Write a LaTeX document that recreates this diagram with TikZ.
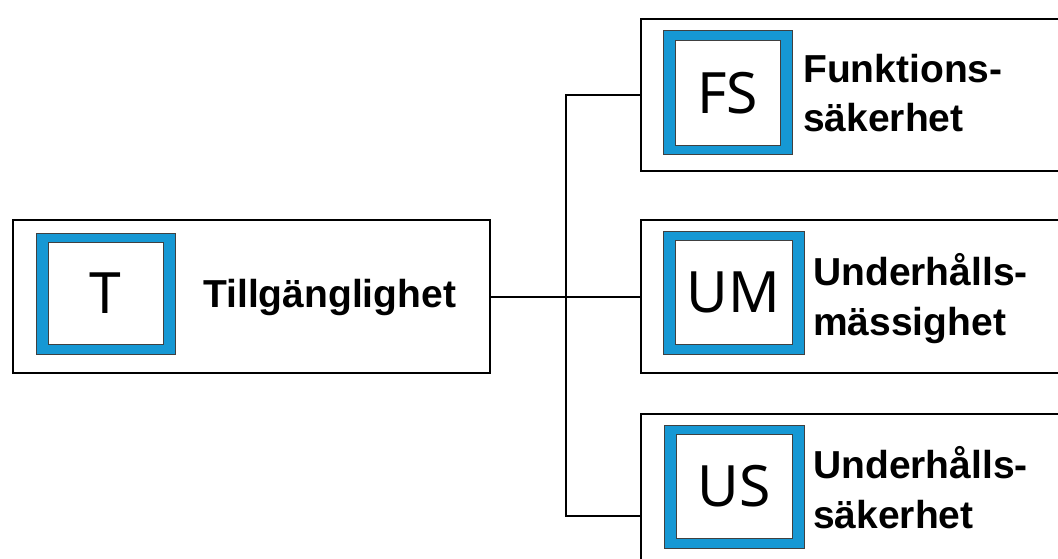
\documentclass[tikz,border=0pt]{standalone}
\usepackage{fontspec}
\setmainfont{Noto Sans}
\newfontfamily\capfont{Liberation Sans}
\definecolor{bandblue}{RGB}{22,152,212}
\tikzset{
frame/.style={draw, line width=2.2pt, anchor=north west, minimum width=460pt},
band/.style={draw=black!75, line width=1pt, fill=bandblue},
face/.style={draw=black!75, line width=1pt, fill=white, inner sep=0pt,
	font=\fontsize{57}{57}\selectfont},
caption/.style={inner sep=0pt, align=left, anchor=base west,
	font=\capfont\bfseries\fontsize{39}{50}\selectfont},
link/.style={line width=2.2pt}
}
\newcommand{\iconbox}[5]{%
	\node[band, minimum width=#3pt, minimum height=#4pt] (#1) at (#2) {};
	\node[face, minimum width=#3pt-24pt, minimum height=#4pt-19pt] (#1-in) at (#1) {#5};
}

\begin{document}
\begin{tikzpicture}[x=1pt, y=-1pt]
	\useasboundingbox (0,0) rectangle (1058,559);
	\clip (0,0) rectangle (1058,559);
	\node[frame, minimum width=477pt, minimum height=153pt] (t) at (12,219) {};
	\node[frame, minimum height=152pt] (fs) at (640,18) {};
	\node[frame, minimum height=153pt] (um) at (640,219) {};
	\node[frame, minimum height=204pt] (us) at (640,413) {};
	\iconbox{ti}{105.5,293.5}{139}{121}{T}
	\iconbox{fsi}{727.5,93}{129}{124}{FS}
	\iconbox{umi}{733.5,292.5}{141}{123}{UM}
	\iconbox{usi}{734,486.5}{140}{123}{US}
	\node[caption] (tl) at (203,307) {Tillgänglighet};
	\node[caption] (fsl) at (803,132) {Funktions-\\säkerhet};
	\node[caption] (uml) at (813,335) {Underhålls-\\mässighet};
	\node[caption] (usl) at (813,528) {Underhålls-\\säkerhet};
	\path (t.east) -- ++(75,0) coordinate (hub);
	\draw[link] (t.east) -- (hub) -- (um.west);
	\draw[link] (fs.west) -| (hub) |- (us.west);
\end{tikzpicture}
\end{document}
